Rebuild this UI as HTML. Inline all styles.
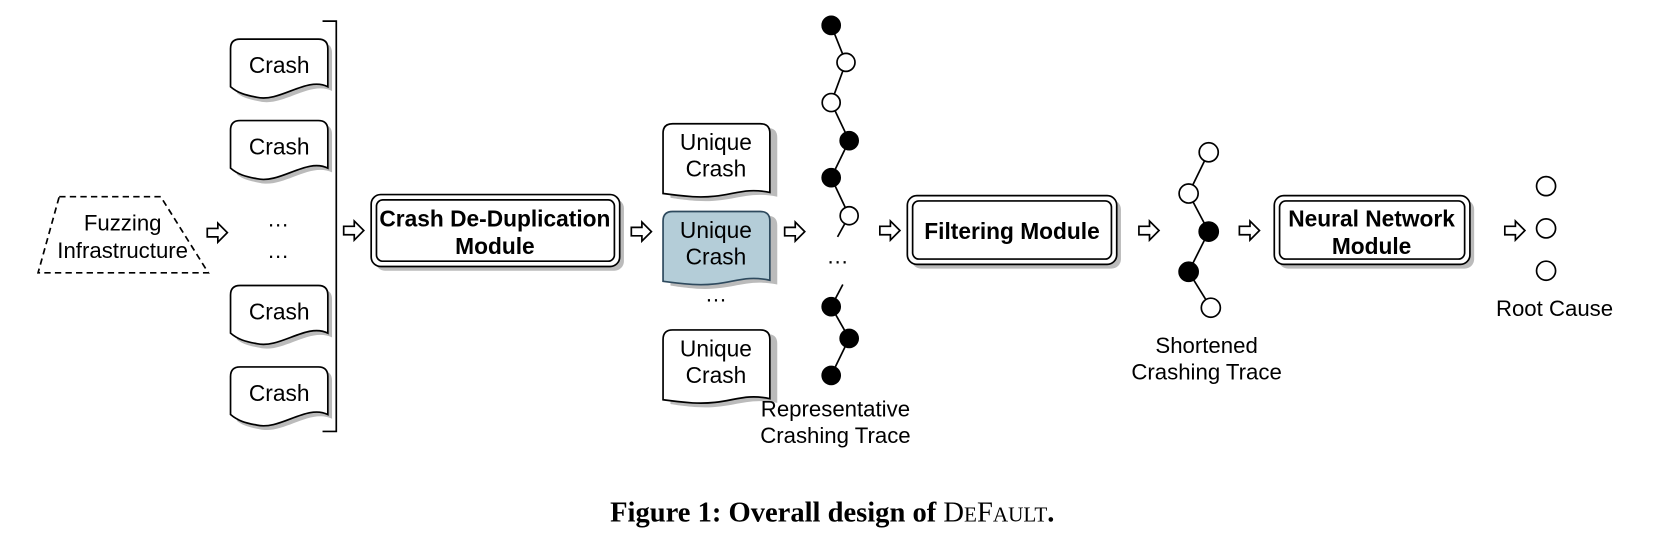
<!DOCTYPE html>
<html><head><meta charset="utf-8"><style>
html,body{margin:0;padding:0;background:#fff;}
svg{display:block;}
text{font-family:"Liberation Sans",Arial,sans-serif;fill:#000;}
</style></head><body>
<svg width="1658" height="545" viewBox="0 0 1658 545" xmlns="http://www.w3.org/2000/svg">
<defs>
<g id="arr"><polygon points="0,-4 10,-4 10,-9 19,0 10,9 10,4 0,4" fill="#fff" stroke="#000" stroke-width="1.6"/></g>
</defs>
<g transform="scale(1.0575)">
<polygon points="56,186 152,186 197,258 36,258" fill="none" stroke="#000" stroke-width="1.6" stroke-dasharray="6,4"/>
<text x="116" y="218" font-size="21" text-anchor="middle">Fuzzing</text>
<text x="116" y="244" font-size="21" text-anchor="middle">Infrastructure</text>

<g id="crashdocs">
<path d="M221,40 Q221,37 230,37 L302,37 Q311,37 311,46 L311,82 C290,72 265,97 243,92 C232,90 226,88 221,84 Z" fill="#bbb" transform="translate(3,4)"/>
<path d="M218,46 Q218,37 227,37 L301,37 Q310,37 310,46 L310,82 C290,72 265,97 243,92 C232,90 225,88 218,82 Z" fill="#fff" stroke="#000" stroke-width="1.6"/>
<text x="264" y="69" font-size="21.5" text-anchor="middle">Crash</text>
</g>
<use href="#crashdocs" y="77"/>
<use href="#crashdocs" y="233"/>
<use href="#crashdocs" y="310"/>
<text x="263" y="214" font-size="21" text-anchor="middle">…</text>
<text x="263" y="244" font-size="21" text-anchor="middle">…</text>

<path d="M305,20 L318,20 L318,408 L305,408" fill="none" stroke="#000" stroke-width="1.6"/>

<use href="#arr" x="196" y="220"/>
<use href="#arr" x="325" y="218"/>

<rect x="355" y="188" width="235" height="68" rx="9" fill="#bbb"/>
<rect x="351" y="184" width="235" height="68" rx="9" fill="#fff" stroke="#000" stroke-width="1.6"/>
<rect x="356" y="189" width="225" height="58" rx="6" fill="none" stroke="#000" stroke-width="1.6"/>
<text x="468" y="214" font-size="21.5" font-weight="bold" text-anchor="middle">Crash De-Duplication</text>
<text x="468" y="240" font-size="21.5" font-weight="bold" text-anchor="middle">Module</text>

<use href="#arr" x="597" y="219"/>

<g id="udoc">
<path d="M630,126 Q630,117 639,117 L722,117 Q731,117 731,126 L731,182 C700,176 690,188 655,186 C642,185 636,184 630,183 Z" fill="#bbb" transform="translate(4,4)"/>
<path d="M627,126 Q627,117 636,117 L719,117 Q728,117 728,126 L728,182 C700,176 690,188 655,186 C642,185 634,184 627,183 Z" fill="#fff" stroke="#000" stroke-width="1.6"/>
<text x="677" y="142" font-size="21.5" text-anchor="middle">Unique</text>
<text x="677" y="167" font-size="21.5" text-anchor="middle">Crash</text>
</g>
<path d="M630,209 Q630,200 639,200 L722,200 Q731,200 731,209 L731,265 C700,259 690,271 655,269 C642,268 636,267 630,266 Z" fill="#bbb" transform="translate(4,4)"/>
<path d="M627,209 Q627,200 636,200 L719,200 Q728,200 728,209 L728,265 C700,259 690,271 655,269 C642,268 634,267 627,266 Z" fill="#b4cdd8" stroke="#2e4a5e" stroke-width="1.6"/>
<text x="677" y="225" font-size="21.5" text-anchor="middle">Unique</text>
<text x="677" y="250" font-size="21.5" text-anchor="middle">Crash</text>
<use href="#udoc" y="195"/>
<text x="677" y="285" font-size="21" text-anchor="middle">…</text>

<use href="#arr" x="742" y="219"/>

<g stroke="#000" stroke-width="1.6">
<line x1="786" y1="24" x2="800" y2="59"/><line x1="800" y1="59" x2="786" y2="97"/>
<line x1="786" y1="97" x2="803" y2="133"/><line x1="803" y1="133" x2="786" y2="168"/>
<line x1="786" y1="168" x2="803" y2="204"/><line x1="803" y1="204" x2="792" y2="224"/>
<line x1="797" y1="269" x2="786" y2="290"/><line x1="786" y1="290" x2="803" y2="320"/>
<line x1="803" y1="320" x2="786" y2="355"/>
<circle cx="786" cy="24" r="8.5" fill="#000"/>
<circle cx="800" cy="59" r="8.5" fill="#fff"/>
<circle cx="786" cy="97" r="8.5" fill="#fff"/>
<circle cx="803" cy="133" r="8.5" fill="#000"/>
<circle cx="786" cy="168" r="8.5" fill="#000"/>
<circle cx="803" cy="204" r="8.5" fill="#fff"/>
<circle cx="786" cy="290" r="8.5" fill="#000"/>
<circle cx="803" cy="320" r="8.5" fill="#000"/>
<circle cx="786" cy="355" r="8.5" fill="#000"/>
</g>
<text x="792" y="249" font-size="21" text-anchor="middle">…</text>
<text x="790" y="394" font-size="21" text-anchor="middle">Representative</text>
<text x="790" y="419" font-size="21" text-anchor="middle">Crashing Trace</text>

<use href="#arr" x="832" y="218"/>

<rect x="862" y="189" width="198" height="65" rx="9" fill="#bbb"/>
<rect x="858" y="185" width="198" height="65" rx="9" fill="#fff" stroke="#000" stroke-width="1.6"/>
<rect x="863" y="190" width="188" height="55" rx="6" fill="none" stroke="#000" stroke-width="1.6"/>
<text x="957" y="226" font-size="21.5" font-weight="bold" text-anchor="middle">Filtering Module</text>

<use href="#arr" x="1077" y="218"/>

<g stroke="#000" stroke-width="1.6">
<line x1="1143" y1="144" x2="1124" y2="183"/><line x1="1124" y1="183" x2="1143" y2="219"/>
<line x1="1143" y1="219" x2="1124" y2="257"/><line x1="1124" y1="257" x2="1145" y2="291"/>
<circle cx="1143" cy="144" r="9" fill="#fff"/>
<circle cx="1124" cy="183" r="9" fill="#fff"/>
<circle cx="1143" cy="219" r="9" fill="#000"/>
<circle cx="1124" cy="257" r="9" fill="#000"/>
<circle cx="1145" cy="291" r="9" fill="#fff"/>
</g>
<text x="1141" y="334" font-size="21" text-anchor="middle">Shortened</text>
<text x="1141" y="359" font-size="21" text-anchor="middle">Crashing Trace</text>

<use href="#arr" x="1172" y="218"/>

<rect x="1209" y="189" width="185" height="65" rx="9" fill="#bbb"/>
<rect x="1205" y="185" width="185" height="65" rx="9" fill="#fff" stroke="#000" stroke-width="1.6"/>
<rect x="1210" y="190" width="175" height="55" rx="6" fill="none" stroke="#000" stroke-width="1.6"/>
<text x="1297" y="214" font-size="21.5" font-weight="bold" text-anchor="middle">Neural Network</text>
<text x="1297" y="240" font-size="21.5" font-weight="bold" text-anchor="middle">Module</text>

<use href="#arr" x="1423" y="218"/>

<g stroke="#000" stroke-width="1.6" fill="#fff">
<circle cx="1462" cy="176" r="9"/><circle cx="1462" cy="216" r="9"/><circle cx="1462" cy="256" r="9"/>
</g>
<text x="1470" y="299" font-size="21" text-anchor="middle">Root Cause</text>

<text x="787" y="493" font-size="27" text-anchor="middle" style="font-family:'Liberation Serif',serif;font-weight:bold">Figure 1: Overall design of <tspan font-weight="normal">D<tspan font-size="20">E</tspan>F<tspan font-size="20">AULT</tspan></tspan>.</text>
</g>
</svg>
</body></html>
